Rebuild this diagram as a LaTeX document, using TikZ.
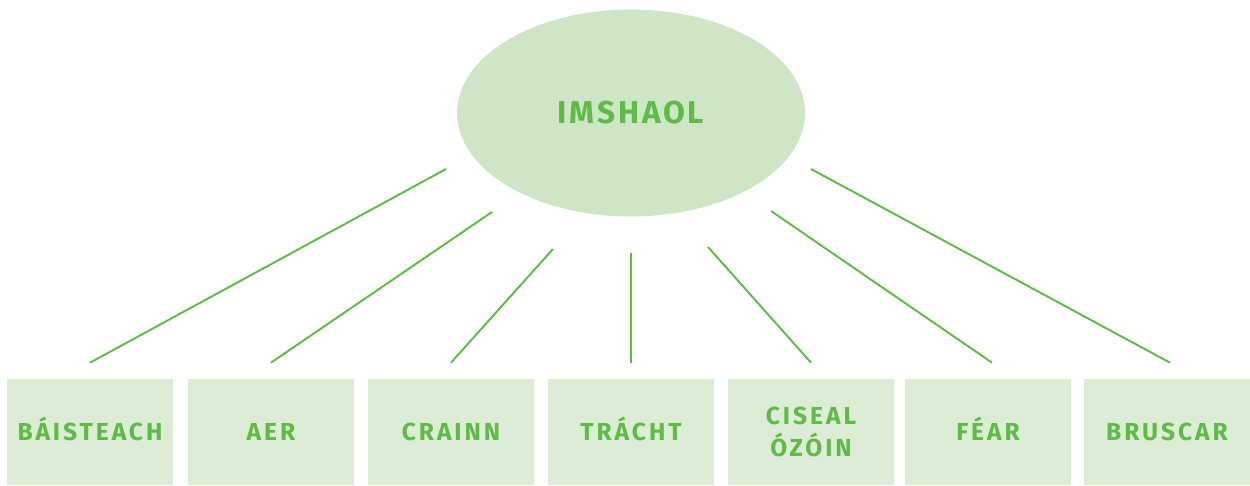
\documentclass[tikz,border=0pt]{standalone}
\usepackage{fontspec}
\setmainfont{Fira Sans}
\usetikzlibrary{shapes.geometric}
\definecolor{leaf}{HTML}{5DBB46}
\definecolor{blobfill}{HTML}{CFE6C6}
\definecolor{boxfill}{HTML}{DDEDD5}

\begin{document}
\begin{tikzpicture}[x=0.02cm,y=-0.02cm,
    topic/.style={ellipse, fill=blobfill, inner sep=0pt,
        minimum width=6.96cm, minimum height=4.14cm,
        text=leaf, font=\bfseries\fontsize{18}{20}\selectfont\addfontfeature{LetterSpace=9}},
    leafbox/.style={rectangle, fill=boxfill, inner sep=0pt,
        minimum width=3.32cm, minimum height=2.12cm, align=center,
        text height=9.6pt, text depth=0pt,
        text=leaf, font=\bfseries\fontsize{14}{18}\selectfont\addfontfeature{LetterSpace=12}},
    twolines/.style={text height=27.6pt, text depth=0pt},
    link/.style={draw=leaf, line width=1.1pt}]
                \useasboundingbox (0,0) rectangle (1250,485);

                \node[topic] (imshaol) at (631,113) {IMSHAOL};

                \foreach \name/\x/\txt/\extra in {baisteach/90/BÁISTEACH/{}, aer/271/AER/{},
                    crainn/451/CRAINN/{}, tracht/631/TRÁCHT/{},
                    ciseal/811/{CISEAL\\ÓZÓIN}/twolines, fear/988/FÉAR/{},
                    bruscar/1167/BRUSCAR/{}}
                    \node[leafbox,\extra] (\name) at (\x,432) {\txt};

                % free ends below the ellipse
                \coordinate (s1) at (446,169);
                \coordinate (s2) at (492,212);
                \coordinate (s3) at (553,249);
                \coordinate (s4) at (631,253);
                \coordinate (s5) at (708,247);
                \coordinate (s6) at (771,211);
                \coordinate (s7) at (811,169);

                \draw[link] (s1) -- ([yshift=0.32cm]baisteach.north);
                \draw[link] (s2) -- ([yshift=0.32cm]aer.north);
                \draw[link] (s3) -- ([yshift=0.32cm]crainn.north);
                \draw[link] (s4) -- ([yshift=0.32cm]tracht.north);
                \draw[link] (s5) -- ([yshift=0.32cm]ciseal.north);
                \draw[link] (s6) -- ([yshift=0.32cm,xshift=0.08cm]fear.north);
                \draw[link] (s7) -- ([yshift=0.32cm,xshift=0.06cm]bruscar.north);
            \end{tikzpicture}
\end{document}
